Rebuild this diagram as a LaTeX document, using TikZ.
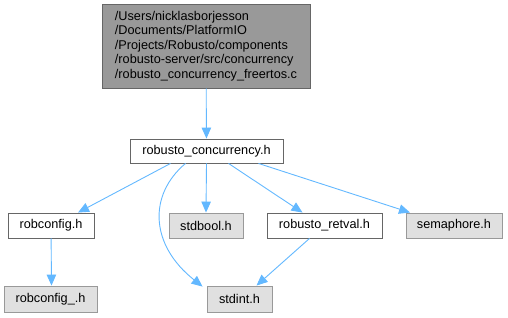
\documentclass[tikz,border=0pt]{standalone}
\usepackage{fontspec}
\setmainfont{Liberation Sans}
\usetikzlibrary{arrows.meta}
\definecolor{edgeblue}{HTML}{63B8FF}
\definecolor{darkfill}{HTML}{999999}
\definecolor{lightfill}{HTML}{E0E0E0}
\definecolor{darkline}{HTML}{666666}
\definecolor{grayline}{HTML}{999999}
\tikzset{
  filebox/.style={draw=darkline, fill=white, line width=0.9pt, inner sep=0pt,
    font=\fontsize{12.7}{14.5}\selectfont, minimum height=25pt},
  sysbox/.style={filebox, draw=grayline, fill=lightfill},
  rootbox/.style={filebox, draw=darkline, fill=darkfill, align=left},
  edge/.style={draw=edgeblue, line width=0.9pt, -{Triangle[length=11pt,width=9.5pt]}}
}
\begin{document}
\begin{tikzpicture}[x=1pt,y=-1pt]
\useasboundingbox (0,0) rectangle (508,317);
% source file and its headers
\node[rootbox, minimum width=208pt, minimum height=84pt] (root) at (206,46)
  {/Users/nicklasborjesson\\/Documents/PlatformIO\\/Projects/Robusto/components\\/robusto-server/src/concurrency\\/robusto\_concurrency\_freertos.c};
\node[filebox, minimum width=153pt, minimum height=24pt] (conc) at (206.5,151) {robusto\_concurrency.h};
\node[filebox, minimum width=86pt] (robconfig) at (51,225.5) {robconfig.h};
\node[sysbox, minimum width=74pt] (stdbool) at (206,225.5) {stdbool.h};
\node[filebox, minimum width=115pt] (retval) at (324.5,225.5) {robusto\_retval.h};
\node[sysbox, minimum width=96pt] (semaphore) at (454,225.5) {semaphore.h};
\node[sysbox, minimum width=93pt, minimum height=26pt] (robconfigu) at (50.5,299) {robconfig\_.h};
\node[sysbox, minimum width=65pt, minimum height=26pt] (stdint) at (239.5,299) {stdint.h};
% include edges
\draw[edge] (root) -- (conc);
\draw[edge] ([xshift=-36pt]conc.south) -- ([xshift=27pt]robconfig.north);
\draw[edge] ([xshift=-21pt]conc.south) .. controls (148,195) and (150,245) .. ([xshift=-4pt,yshift=-1pt]stdint.north west);
\draw[edge] (conc.south) -- (stdbool.north);
\draw[edge] ([xshift=22pt]conc.south) -- ([xshift=-22pt]retval.north);
\draw[edge] ([xshift=52pt]conc.south) -- ([xshift=-44pt]semaphore.north);
\draw[edge] (robconfig) -- ([xshift=1pt]robconfigu.north);
\draw[edge] ([xshift=-15pt]retval.south) -- ([xshift=17pt]stdint.north);
\end{tikzpicture}
\end{document}
